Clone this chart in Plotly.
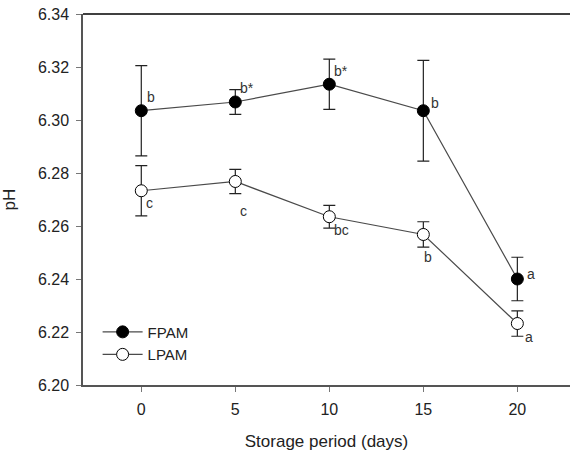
import plotly.graph_objects as go

days = [0, 5, 10, 15, 20]
fpam_ph = [6.3035, 6.3068, 6.3135, 6.3035, 6.2400]
fpam_err = [0.0170, 0.0047, 0.0095, 0.0190, 0.0082]
lpam_ph = [6.2733, 6.2768, 6.2635, 6.2568, 6.2232]
lpam_err = [0.0095, 0.0046, 0.0043, 0.0048, 0.0048]
fpam_letters = ["b", "b*", "b*", "b", "a"]
lpam_letters = ["c", "c", "bc", "b", "a"]
y_ticks = [6.20, 6.22, 6.24, 6.26, 6.28, 6.30, 6.32, 6.34]
x_ticks = [0, 5, 10, 15, 20]

font = "Liberation Sans, Arial, sans-serif"
fig = go.Figure()
fig.add_trace(go.Scatter(
    x=days, y=fpam_ph, name="FPAM", mode="lines+markers",
    line=dict(color="#4a4a4a", width=1.2),
    marker=dict(symbol="circle", size=12, color="black", line=dict(color="black", width=1)),
    error_y=dict(type="data", array=fpam_err, color="#222", thickness=1.2, width=6),
))
fig.add_trace(go.Scatter(
    x=days, y=lpam_ph, name="LPAM", mode="lines+markers",
    line=dict(color="#4a4a4a", width=1.2),
    marker=dict(symbol="circle", size=12, color="white", line=dict(color="black", width=1)),
    error_y=dict(type="data", array=lpam_err, color="#222", thickness=1.2, width=6),
))

f_shifts = [(10, 14), (12, 14), (12, 13), (12, 8), (14, 5)]
l_shifts = [(8, -12), (8, -30), (12, -13), (5, -23), (12, -13)]
for d, v, t, (dx, dy) in zip(days, fpam_ph, fpam_letters, f_shifts):
    fig.add_annotation(x=d, y=v, text=t, showarrow=False, xshift=dx, yshift=dy,
                       font=dict(family=font, size=14, color="#333"))
for d, v, t, (dx, dy) in zip(days, lpam_ph, lpam_letters, l_shifts):
    fig.add_annotation(x=d, y=v, text=t, showarrow=False, xshift=dx, yshift=dy,
                       font=dict(family=font, size=14, color="#333"))

fig.add_shape(type="line", xref="paper", yref="paper", x0=0, x1=1, y0=1, y1=1,
              line=dict(color="black", width=1.5))

fig.update_layout(
    width=570, height=455,
    margin=dict(l=83, r=0, t=14, b=70),
    plot_bgcolor="white", paper_bgcolor="white",
    font=dict(family=font, size=14, color="#222"),
    showlegend=True,
    legend=dict(x=0.03, y=0.187, xanchor="left", yanchor="top",
                bgcolor="rgba(0,0,0,0)", font=dict(size=15, color="#222"),
                itemwidth=40, tracegroupgap=0),
    xaxis=dict(range=[-3.1, 22.8], tickvals=x_ticks, ticks="outside", ticklen=5,
               tickcolor="#777", showline=True, linecolor="#555", linewidth=1.5,
               showgrid=False, zeroline=False, tickfont=dict(size=16),
               ticklabelstandoff=4,
               title=dict(text="Storage period (days)", font=dict(size=17), standoff=18)),
    yaxis=dict(range=[6.20, 6.34], tickvals=y_ticks, tickformat=".2f", ticks="outside",
               ticklen=5, tickcolor="#777", showline=True, linecolor="#555", linewidth=1.5,
               showgrid=False, zeroline=False, tickfont=dict(size=16),
               ticklabelstandoff=4,
               title=dict(text="pH", font=dict(size=17), standoff=20)),
)
fig.write_html("out.html")
